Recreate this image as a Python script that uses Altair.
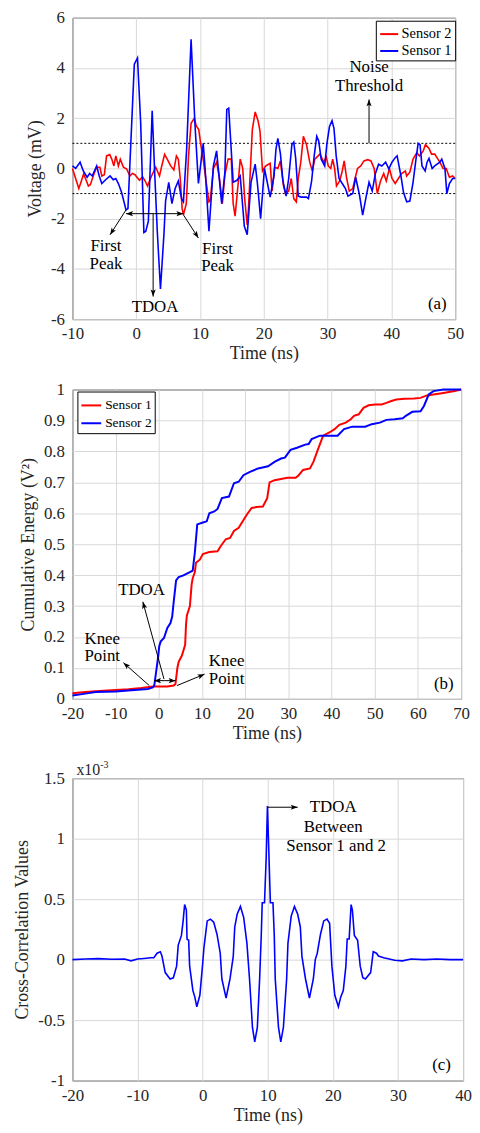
import math
import altair as alt
import pandas as pd

FONT = "Liberation Serif, Times New Roman, DejaVu Serif, serif"
INK = "#262626"
GRID = "#d8d8d8"
RED = "#ff0000"
BLUE = "#0000ff"
HEAD = "M0,0L0.42,1.15L0,0.9L-0.42,1.15Z"

# ---------------- panel (a): voltage traces ----------------
a_s2_t = [-10, -9.5, -9.0, -8.6, -8.25, -7.8, -7.5, -7.2, -6.6, -6.2, -5.7, -5.4, -5.0, -4.65, -4.15,
          -3.8, -3.5, -3.2, -2.8, -2.5, -2.0, -1.5, -1.0, -0.6, -0.2, 0.5, 1.0, 1.4, 1.77, 2.4, 3.05,
          3.65, 4.0, 4.45, 4.9, 5.4, 5.9, 6.3, 6.6, 6.9, 7.2, 7.4, 7.85, 8.2, 8.6, 9.1, 9.4, 9.8, 10.1,
          10.5, 11.0, 11.4, 11.6, 12.1, 12.6, 13.0, 13.5, 13.9, 14.4, 14.9, 15.2, 15.5, 16.0, 16.3, 16.7,
          17.0, 17.4, 17.6, 18.2, 18.65, 19.1, 19.4, 19.8, 20.3, 21.0, 21.3, 21.7, 22.2, 22.6, 23.1, 23.4,
          23.9, 24.3, 24.7, 25.1, 25.4, 25.8, 26.2, 26.7, 27.2, 27.6, 28.0, 28.8, 29.4, 29.8, 30.1, 30.5,
          30.8, 31.1, 31.4, 31.9, 32.3, 32.6, 33.0, 33.4, 33.95, 34.4, 34.7, 35.2, 35.7, 36.3, 36.8, 37.3,
          37.8, 38.3, 38.8, 39.2, 39.7, 40.1, 40.6, 41.1, 41.6, 42.2, 42.4, 42.9, 43.4, 44.0, 44.4, 45.0,
          45.35, 45.9, 46.3, 46.8, 47.6, 48.1, 48.6, 49.1, 49.6, 50]
a_s2_v = [0.0, -0.4, -0.8, -0.5, -0.22, -0.5, -0.7, -0.65, -0.2, 0.05, 0.05, -0.3, -0.25, 0.5, 0.55,
          0.35, 0.1, 0.5, 0.1, 0.37, 0.05, -0.02, -0.3, -0.2, -0.25, -0.47, -0.33, -0.5, -0.7, -0.3, 0.05,
          -0.3, 0.1, 0.56, 0.35, 0.1, -0.06, 0.5, 0.37, -0.4, -1.6, -1.85, -1.4, 0.5, 1.8, 2.0, 1.7, 1.55, 1.0,
          0.37, -0.6, -1.33, -1.27, 0.0, 0.25, -0.3, -1.4, -0.25, 0.37, 0.37, -1.4, -1.9, -0.55, 0.37, 0.0,
          -1.2, -2.25, -1.6, 1.55, 2.25, 1.9, 1.5, -0.1, 0.1, 0.2, -0.9, 0.05, 0.0, 0.3, -0.7, -1.0,
          -0.9, -0.4, -1.2, -1.33, -0.4, 0.25, 1.28, 0.95, 0.25, -0.1, 0.37, 0.57, 0.25, 0.45, 0.1, 0.0,
          0.37, 0.0, -0.7, -0.5, -0.1, 0.3, -0.4, -0.9, -0.8, -0.3, 0.0, 0.1, 0.3, 0.35, 0.3, 0.0,
          -1.0, -0.5, -0.2, -0.5, 0.0, -0.4, -0.6, -0.4, -0.2, -0.1, -0.3, -0.15, 0.37, 0.63, 0.5, 0.7,
          0.95, 0.8, 0.57, 0.57, 0.25, 0.0, 0.0, -0.35, -0.3, -0.4]

a_s1_t = [-10, -9.5, -8.8, -8.3, -7.7, -7.3, -6.9, -6.2, -5.8, -5.4, -4.8, -4.1, -3.6, -3.2, -2.8, -2.3,
          -1.6, -1.3, -0.3, 0.2, 0.7, 1.2, 1.5, 1.9, 2.5, 2.9, 3.3, 3.8, 4.35, 4.6, 5.1, 5.6, 6.1, 6.6,
          7.1, 7.4, 7.9, 8.6, 9.2, 9.75, 10.5, 10.8, 11.4, 12.1, 12.6, 13.4, 13.9, 14.2, 14.5, 15.2, 15.8,
          16.3, 16.95, 17.4, 18.0, 18.65, 19.0, 19.5, 20.1, 20.5, 21.0, 21.6, 21.9, 22.2, 22.6, 23.0, 23.5,
          23.9, 24.4, 24.7, 25.0, 25.4, 25.85, 26.7, 27.0, 27.5, 27.9, 28.3, 28.6, 29.0, 29.55, 29.9, 30.3,
          30.7, 31.0, 31.35, 31.8, 32.3, 32.8, 33.2, 33.95, 34.4, 35.0, 35.5, 36.1, 36.5, 37.0, 37.5, 38.0,
          38.5, 39.1, 39.6, 40.1, 40.6, 40.9, 41.5, 41.9, 42.4, 42.9, 43.4, 43.8, 44.2, 44.5, 44.8, 45.3,
          45.6, 45.9, 46.4, 46.8, 47.6, 47.9, 48.4, 48.7, 49.1, 49.6, 50]
a_s1_v = [0.1, 0.0, 0.25, -0.1, -0.35, -0.2, -0.3, 0.1, -0.3, -0.6, -0.45, -0.3, -0.45, -0.4, -0.6, -0.95,
          -1.65, -1.6, 4.15, 4.4, 1.8, -2.55, -2.5, -2.1, 2.3, -0.2, -2.5, -4.8, -2.6, -1.3, -0.55, -1.4, -0.8, -0.5,
          -1.2, -1.33, 0.75, 5.14, 1.8, -0.6, 1.0, 0.0, -2.5, 0.1, 0.7, -1.4, -0.15, 2.35, 2.4, -0.55, -0.47,
          -0.3, -2.3, -2.64, -0.55, 0.17, -0.6, -2.0, 0.0, -0.5, -1.14, -0.3, 0.75, 1.2, 0.6, -0.5, -1.1,
          -0.4, 0.95, 1.05, 0.4, -1.1, -1.14, -1.14, -1.2, -0.5, 0.5, 1.28, 1.1, 0.37, 0.1, 1.0, 1.67,
          1.9, 1.6, 0.5, -0.4, -0.6, -0.8, -1.1, -1.0, -0.35, -1.05, -1.86, -1.05, -0.55, -0.9, -0.2, 0.17,
          0.1, 0.25, -0.02, 0.25, 0.43, 0.5, -0.3, -0.95, -1.33, -1.3, -0.55, 0.25, 1.0, 0.95, 0.1, -0.1,
          0.25, 0.4, 0.0, 0.1, 0.25, 0.37, 0.0, -1.0, -0.6, -0.4, -0.4]

a_threshold = [1.0, -1.0]
a_text = ["Noise", "Threshold", "First", "Peak", "First", "Peak", "TDOA", "(a)"]
a_text_t = [36.5, 36.5, -4.75, -4.75, 12.75, 12.75, 2.95, 47.2]
a_text_v = [4.02, 3.3, -3.1, -3.8, -3.2, -3.9, -5.5, -5.4]
# arrows: tail (t0, v0) -> tip (t1, v1)
a_arrow_t0 = [36.5, -1.6, 7.4, 2.9, 2.9, 2.65]
a_arrow_v0 = [1.0, -1.65, -1.85, -1.8, -1.8, -1.8]
a_arrow_t1 = [36.5, -4.1, 9.75, -1.6, 7.4, 2.65]
a_arrow_v1 = [2.75, -2.64, -2.77, -1.8, -1.8, -5.1]

# ---------------- panel (b): cumulative energy ----------------
b_s1_t = [-20, -17, -14.6, -10, -7, -4.05, -1.4, 0, 1.97, 3.45, 3.85, 4.3, 4.6, 5.35, 6.1, 6.3, 6.5, 7.2,
          7.6, 7.85, 8.35, 8.6, 9.5, 10.2, 11.7, 13.6, 14.4, 15.5, 16.5, 17.4, 18.5, 19.25, 20.4, 21.5, 22.6,
          24.1, 25.1, 25.65, 26.8, 28.3, 29.8, 31.7, 32.4, 33.4, 35.0, 35.8, 36.9, 38.05, 39.6, 40.7, 41.8,
          43.3, 44.45, 45.2, 46.3, 47.4, 48.6, 50.1, 51.6, 52.7, 53.85, 55.0, 56.9, 59.1, 60.6, 62.1, 63.6,
          65.9, 68.5, 70]
b_s1_v = [0.018, 0.022, 0.025, 0.029, 0.031, 0.035, 0.04, 0.04, 0.04, 0.043, 0.048, 0.10, 0.12, 0.14, 0.175,
          0.24, 0.27, 0.30, 0.37, 0.39, 0.41, 0.44, 0.45, 0.468, 0.475, 0.477, 0.495, 0.516, 0.52, 0.543, 0.553,
          0.57, 0.596, 0.617, 0.62, 0.622, 0.649, 0.70, 0.707, 0.711, 0.715, 0.715, 0.723, 0.74, 0.745, 0.766,
          0.808, 0.851, 0.862, 0.872, 0.886, 0.893, 0.904, 0.915, 0.92, 0.941, 0.949, 0.952, 0.952, 0.957,
          0.963, 0.968, 0.97, 0.971, 0.973, 0.981, 0.984, 0.989, 0.995, 1.0]
b_s2_t = [-20, -17, -14.6, -10, -5.6, -2.55, -1.4, -1.05, -0.6, -0.3, 0.1, 0.45, 1.2, 1.97, 2.7, 3.1, 3.45,
          4.0, 4.6, 5.7, 7.2, 7.85, 8.35, 8.9, 10.2, 11.1, 11.7, 12.85, 13.6, 14.6, 16.25, 17.4, 18.5, 19.6,
          21.1, 23.0, 25.3, 26.8, 28.3, 29.2, 30.5, 32.0, 33.9, 34.7, 35.4, 37.3, 38.8, 41.4, 42.9, 44.8,
          47.8, 49.3, 51.2, 52.7, 54.6, 56.5, 57.2, 58.7, 60.6, 61.4, 62.5, 63.6, 65.9, 70]
b_s2_v = [0.011, 0.017, 0.022, 0.024, 0.029, 0.032, 0.037, 0.043, 0.09, 0.12, 0.17, 0.186, 0.197, 0.229,
          0.245, 0.266, 0.314, 0.383, 0.394, 0.399, 0.41, 0.415, 0.474, 0.564, 0.57, 0.574, 0.60, 0.606, 0.614,
          0.649, 0.654, 0.697, 0.702, 0.723, 0.734, 0.745, 0.752, 0.766, 0.777, 0.78, 0.805, 0.812, 0.822,
          0.824, 0.84, 0.851, 0.851, 0.851, 0.872, 0.88, 0.88, 0.888, 0.893, 0.902, 0.904, 0.907, 0.915,
          0.928, 0.93, 0.947, 0.984, 0.995, 1.0, 1.0]
b_text = ["TDOA", "Knee", "Point", "Knee", "Point", "(b)"]
b_text_t = [-4.0, -13.1, -13.1, 15.7, 15.7, 66.0]
b_text_v = [0.351, 0.193, 0.137, 0.121, 0.065, 0.048]
b_arrow_t0 = [-2.2, 4.2, 1.4, 1.4, 1.2]
b_arrow_v0 = [0.043, 0.043, 0.059, 0.059, 0.064]
b_arrow_t1 = [-8.2, 10.6, -1.1, 3.9, -3.7]
b_arrow_v1 = [0.117, 0.08, 0.059, 0.059, 0.314]

# ---------------- panel (c): cross-correlation (x10^-3) ----------------
c_t = [-20, -18, -16, -14, -12, -11, -10, -9, -8, -7.5, -7.0, -6.5, -6.25, -5.75, -5.0, -4.5, -4.0, -3.75,
       -3.26, -3.0, -2.77, -2.5, -2.4, -2.15, -2.0, -1.5, -1.2, -0.9, -0.43, -0.03, 0.2, 0.7, 1.2, 1.7, 2.2,
       2.7, 2.95, 3.6, 4.2, 4.7, 4.93, 5.3, 5.8, 6.3, 6.8, 7.2, 7.65, 8.0, 8.4, 8.75, 9.0, 9.15, 9.5, 9.75,
       9.95, 10.2, 10.4, 10.8, 11.0, 11.15, 11.65, 12.0, 12.4, 12.9, 13.1, 13.6, 14.1, 14.6, 15.0, 15.25,
       15.8, 16.4, 17.0, 17.3, 17.6, 18.1, 18.6, 19.1, 19.5, 19.85, 20.3, 20.85, 21.2, 21.6, 22.0, 22.2,
       22.5, 22.8, 23.0, 23.3, 23.8, 24.2, 24.6, 25.0, 25.8, 26.2, 26.7, 27.0, 27.8, 29.5, 30.7, 32, 34,
       36, 38, 40]
c_v = [0.0, 0.005, 0.008, 0.003, 0.005, -0.01, 0.005, 0.01, 0.015, 0.016, 0.053, 0.065, 0.03, -0.107, -0.16,
       -0.15, -0.054, 0.12, 0.2, 0.32, 0.455, 0.41, 0.17, 0.16, -0.054, -0.255, -0.31, -0.39, -0.295, -0.054,
       0.1, 0.32, 0.335, 0.31, 0.21, 0.053, -0.16, -0.317, -0.16, 0.027, 0.27, 0.375, 0.44, 0.35, 0.134,
       -0.16, -0.56, -0.68, -0.56, -0.16, 0.2, 0.47, 0.47, 0.83, 1.27, 0.83, 0.47, 0.47, 0.2, -0.16, -0.56,
       -0.68, -0.56, -0.16, 0.134, 0.36, 0.44, 0.375, 0.27, 0.027, -0.16, -0.317, -0.16, 0.0, 0.053, 0.21,
       0.32, 0.335, 0.3, -0.054, -0.295, -0.39, -0.31, -0.255, -0.054, 0.17, 0.17, 0.455, 0.41, 0.2, 0.16,
       -0.054, -0.15, -0.16, -0.107, 0.065, 0.053, 0.03, 0.016, -0.005, -0.01, 0.005, 0.0, 0.005, 0.0, 0.0]
c_text = ["TDOA", "Between", "Sensor 1 and 2", "(c)"]
c_text_t = [20.05, 20.05, 20.5, 36.7]
c_text_v = [1.26, 1.10, 0.94, -0.87]
c_arrow_t0 = [10.0]
c_arrow_v0 = [1.26]
c_arrow_t1 = [14.6]
c_arrow_v1 = [1.26]

# ---------------- layout sizes ----------------
WA, HA = 386, 304
WB, HB = 392, 312
WC, HC = 394, 305


def x_axis(values, title):
    return alt.Axis(values=values, title=title, labelExpr="'' + datum.value", ticks=False,
                    domain=False, grid=True, labelPadding=7, titlePadding=3, labelFlush=False)


def y_axis(values, title):
    return alt.Axis(values=values, title=title, labelExpr="'' + datum.value", ticks=False,
                    domain=False, grid=True, labelPadding=8, titlePadding=6, labelFlush=False)


def panel(series_frames, color_scale, legend, xdom, ydom, xticks, yticks, ytitle, w, h,
          texts, arrows, extra=None, line_width=1.6):
    xs = alt.Scale(domain=xdom, nice=False, zero=False, padding=0)
    ys = alt.Scale(domain=ydom, nice=False, zero=False, padding=0)
    xax = x_axis(xticks, "Time (ns)")
    yax = y_axis(yticks, ytitle)

    def X(f):
        return alt.X(f, scale=xs, axis=xax, title="Time (ns)")

    def Y(f):
        return alt.Y(f, scale=ys, axis=yax, title=ytitle)

    layers = []
    if extra is not None:
        layers += extra(X, Y)
    for df, col in series_frames:
        enc = dict(x=X("t:Q"), y=Y("v:Q"))
        if color_scale is not None:
            enc["color"] = alt.Color("series:N", scale=color_scale, legend=legend)
            layers.append(alt.Chart(df).mark_line(strokeWidth=line_width).encode(**enc))
        else:
            layers.append(alt.Chart(df).mark_line(strokeWidth=line_width, color=col).encode(**enc))

    t0, v0, t1, v1 = arrows
    kx = w / (xdom[1] - xdom[0])
    ky = h / (ydom[1] - ydom[0])
    rows = []
    for a, b, c, d in zip(t0, v0, t1, v1):
        dx = kx * (c - a)
        dy = -ky * (d - b)
        ang = math.degrees(math.atan2(dx, -dy)) % 360
        rows.append(dict(t=a, v=b, t2=c, v2=d, ang=ang))
    adf = pd.DataFrame(rows)
    layers.append(alt.Chart(adf).mark_rule(color="black", strokeWidth=1).encode(
        x=X("t:Q"), y=Y("v:Q"), x2="t2:Q", y2="v2:Q"))
    layers.append(alt.Chart(adf).mark_point(shape=HEAD, filled=True, color="black", opacity=1,
                                            size=150, strokeWidth=0).encode(
        x=X("t2:Q"), y=Y("v2:Q"), angle=alt.Angle("ang:Q", scale=None)))

    labels, lt, lv = texts
    tdf = pd.DataFrame({"label": labels, "t": lt, "v": lv})
    layers.append(alt.Chart(tdf).mark_text(font=FONT, fontSize=17, color="black", align="center",
                                           baseline="middle").encode(
        x=X("t:Q"), y=Y("v:Q"), text="label:N"))
    return alt.layer(*layers).properties(width=w, height=h)


# ---- panel a ----
dfa2 = pd.DataFrame({"t": a_s2_t, "v": a_s2_v, "series": "Sensor 2"})
dfa1 = pd.DataFrame({"t": a_s1_t, "v": a_s1_v, "series": "Sensor 1"})
cs_a = alt.Scale(domain=["Sensor 2", "Sensor 1"], range=[RED, BLUE])
leg_a = alt.Legend(title=None, orient="none", legendX=WA - 80, legendY=3, symbolType="stroke",
                   symbolStrokeWidth=2, symbolSize=330, labelFont=FONT, labelFontSize=14.5,
                   labelColor="black", strokeColor="black", fillColor="white", padding=3,
                   rowPadding=0, labelOffset=2)


def a_extra(X, Y):
    thr = pd.DataFrame({"v": a_threshold})
    return [alt.Chart(thr).mark_rule(color="black", strokeDash=[2, 2], strokeWidth=1).encode(
        y=Y("v:Q"))]


chart_a = panel([(dfa2, RED), (dfa1, BLUE)], cs_a, leg_a, [-10, 50], [-6, 6],
                [-10, 0, 10, 20, 30, 40, 50], [-6, -4, -2, 0, 2, 4, 6], "Voltage (mV)", WA, HA,
                (a_text, a_text_t, a_text_v), (a_arrow_t0, a_arrow_v0, a_arrow_t1, a_arrow_v1),
                extra=a_extra, line_width=1.6)

# ---- panel b ----
dfb1 = pd.DataFrame({"t": b_s1_t, "v": b_s1_v, "series": "Sensor 1"})
dfb2 = pd.DataFrame({"t": b_s2_t, "v": b_s2_v, "series": "Sensor 2"})
cs_b = alt.Scale(domain=["Sensor 1", "Sensor 2"], range=[RED, BLUE])
leg_b = alt.Legend(title=None, orient="none", legendX=5, legendY=2, symbolType="stroke",
                   symbolStrokeWidth=2, symbolSize=400, labelFont=FONT, labelFontSize=13.5,
                   labelColor="black", strokeColor="black", fillColor="white", padding=3,
                   rowPadding=0, labelOffset=3)
chart_b = panel([(dfb1, RED), (dfb2, BLUE)], cs_b, leg_b, [-20, 70], [0, 1],
                [-20, -10, 0, 10, 20, 30, 40, 50, 60, 70],
                [0, 0.1, 0.2, 0.3, 0.4, 0.5, 0.6, 0.7, 0.8, 0.9, 1], "Cumulative Energy (V²)", WB, HB,
                (b_text, b_text_t, b_text_v), (b_arrow_t0, b_arrow_v0, b_arrow_t1, b_arrow_v1),
                line_width=2)

# ---- panel c ----
dfc = pd.DataFrame({"t": c_t, "v": c_v})


def c_extra(X, Y):
    exp = pd.DataFrame({"t": [-20], "v": [1.5]})
    return [
        alt.Chart(exp).mark_text(font=FONT, fontSize=16, color=INK, align="left",
                                 baseline="alphabetic", dx=4, dy=-3).encode(
            x=X("t:Q"), y=Y("v:Q"), text=alt.value("x10")),
        alt.Chart(exp).mark_text(font=FONT, fontSize=10, color=INK, align="left",
                                 baseline="alphabetic", dx=28, dy=-10).encode(
            x=X("t:Q"), y=Y("v:Q"), text=alt.value("-3")),
    ]


chart_c = panel([(dfc, BLUE)], None, None, [-20, 40], [-1, 1.5],
                [-20, -10, 0, 10, 20, 30, 40], [-1, -0.5, 0, 0.5, 1, 1.5], "Cross-Correlation Values",
                WC, HC, (c_text, c_text_t, c_text_v), (c_arrow_t0, c_arrow_v0, c_arrow_t1, c_arrow_v1),
                extra=c_extra, line_width=1.6)

chart = alt.vconcat(chart_a, chart_b, chart_c, spacing=16).resolve_scale(
    color="independent", x="independent", y="independent").resolve_legend(
    color="independent").properties(
    padding={"left": 5, "top": -5, "right": 0, "bottom": 0}, background="white"
).configure_axis(
    labelFont=FONT, labelFontSize=17, labelColor=INK, titleFont=FONT, titleFontSize=18,
    titleFontWeight="normal", titleColor=INK, gridColor=GRID, gridWidth=1
).configure_view(stroke=INK, strokeWidth=1)

chart.save("out.html", embed_options={"renderer": "svg", "actions": False})
